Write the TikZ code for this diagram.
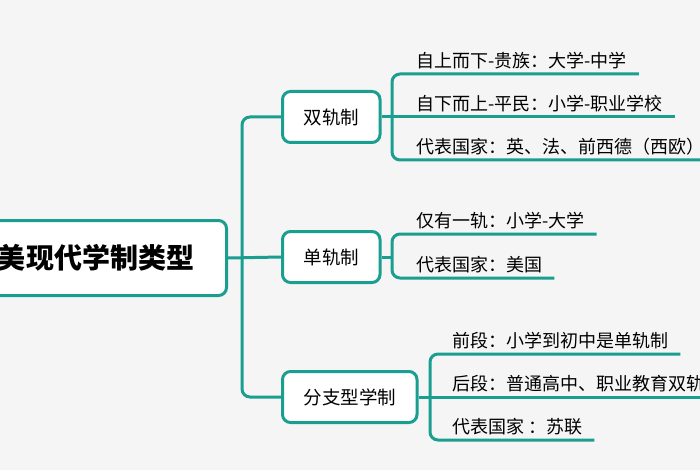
\documentclass[tikz,border=0pt]{standalone}
\usepackage{fontspec}
\setmainfont{Noto Sans CJK SC}
\usetikzlibrary{positioning}
\definecolor{teal}{HTML}{1A9E8F}
\definecolor{paper}{HTML}{F5F5F5}
\begin{document}
\begin{tikzpicture}[x=1pt,y=-1pt,
    link/.style={draw=teal, line width=3pt, rounded corners=8pt},
    rootbox/.style={rectangle, draw=teal, line width=3pt, fill=white, rounded corners=8pt,
      minimum width=289pt, minimum height=75pt, font=\fontsize{28}{32}\selectfont\bfseries},
    midbox/.style={rectangle, draw=teal, line width=3pt, fill=white, rounded corners=8pt,
      minimum height=51pt, inner xsep=21pt, font=\fontsize{18.5}{22}\selectfont},
    leaf/.style={anchor=south west, inner xsep=12pt, inner ysep=5pt,
      font=\fontsize{18}{22}\selectfont}
  ]
  \fill[paper] (0,0) rectangle (700,470);
  \clip (0,0) rectangle (700,470);
  % main branches
  \node[rootbox, anchor=east] (root) at (228,258) {欧美现代学制类型};
  \node[midbox, anchor=west] (dual) at (281,117) {双轨制};
  \node[midbox, anchor=west] (single) at (281,257) {单轨制};
  \node[midbox, anchor=west] (branch) at (281,397) {分支型学制};
  \coordinate (s0) at (242,258);
  \draw[link] (root.east) -- (single.west);
  \draw[link] (dual.west) -| (s0) |- (branch.west);
  % dual track
  \node[leaf] (d1) at (404,74) {自上而下-贵族：大学-中学};
  \node[leaf] (d2) at (404,117) {自下而上-平民：小学-职业学校};
  \node[leaf] (d3) at (404,160) {代表国家：英、法、前西德（西欧）};
  \coordinate (s1) at (392,117);
  \draw[link] (dual.east) -- (d2.south east);
  \draw[link] (d1.south east) -| (s1) |- (d3.south east);
  % single track
  \node[leaf] (u1) at (404,234) {仅有一轨：小学-大学};
  \node[leaf] (u2) at (404,278) {代表国家：美国};
  \coordinate (s2) at (392,257);
  \draw[link] (single.east) -- (s2);
  \draw[link] (u1.south east) -| (s2) |- (u2.south east);
  % branching type
  \node[leaf] (b1) at (440,354) {前段：小学到初中是单轨制};
  \node[leaf] (b2) at (440,397) {后段：普通高中、职业教育双轨制};
  \node[leaf] (b3) at (440,440) {代表国家 ：苏联};
  \coordinate (s3) at (430,397);
  \draw[link] (branch.east) -- (b2.south east);
  \draw[link] (b1.south east) -| (s3) |- (b3.south east);
\end{tikzpicture}
\end{document}
